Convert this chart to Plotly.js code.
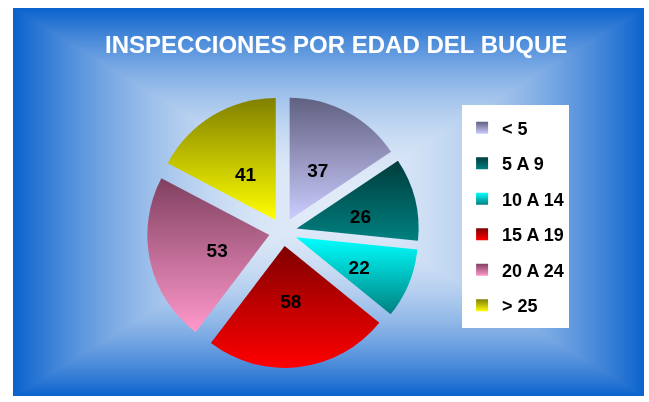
<!DOCTYPE html>
<html><head><meta charset="utf-8">
<script src="https://cdn.plot.ly/plotly-3.0.1.min.js"></script>
<style>
html,body{margin:0;padding:0;background:#fff;overflow:hidden;}
#wrap{position:relative;width:649px;height:402px;}
#bg{position:absolute;left:13px;top:8px;}
#chart{position:absolute;left:0;top:0;width:649px;height:402px;}
</style>
</head><body>
<div id="wrap"><canvas id="bg" width="631" height="388"></canvas><div id="chart"></div></div>
<script>
// ---- data ----
const chartTitle = 'INSPECCIONES POR EDAD DEL BUQUE';
const categories = ['< 5', '5 A 9', '10 A 14', '15 A 19', '20 A 24', '> 25'];
const inspections = [37, 26, 22, 58, 53, 41];
const gradTop =    ['#606080', '#003c3c', '#00ffff', '#800000', '#804060', '#808000'];
const gradBottom = ['#ccccff', '#008080', '#008080', '#ff0000', '#ff99cc', '#ffff00'];
const midColors =  ['#9696c0', '#005e5e', '#00c0c0', '#c00000', '#c06c96', '#c0c000'];

// ---- background (rectangular gradient) ----
(function(){
  const c = document.getElementById('bg');
  const ctx = c.getContext('2d');
  const W = c.width, H = c.height;
  const img = ctx.createImageData(W, H);
  const edge = [10, 98, 205], ctr = [225, 235, 248];
  const cx = W/2, cy = H/2;
  for (let y = 0; y < H; y++) {
    for (let x = 0; x < W; x++) {
      const t = Math.max(Math.abs(x - cx)/cx, Math.abs(y - cy)/cy);
      const f = Math.pow(t, 2);
      const i = (y*W + x)*4;
      img.data[i]   = ctr[0] + (edge[0]-ctr[0])*f;
      img.data[i+1] = ctr[1] + (edge[1]-ctr[1])*f;
      img.data[i+2] = ctr[2] + (edge[2]-ctr[2])*f;
      img.data[i+3] = 255;
    }
  }
  ctx.putImageData(img, 0, 0);
})();

const FONT = 'Liberation Sans, Arial, sans-serif';
const W = 649, H = 402;
// pie centre (px) and radii
const CX = 283, CY = 232, R = 122, PULLPX = 14, RL = 88, LABEL_DY = 4;
function dom(r, dy) {
  const cy = CY + (dy || 0);
  return {x: [(CX - r)/W, (CX + r)/W], y: [(H - cy - r)/H, (H - cy + r)/H]};
}
const legendLabels = categories.map(s => '<span style="font-size:18px">' + s + '</span>');

const pieTrace = {
  type: 'pie',
  labels: legendLabels,
  values: inspections,
  sort: false,
  direction: 'clockwise',
  rotation: 0,
  pull: PULLPX / R,
  textinfo: 'none',
  marker: {colors: midColors, line: {width: 0}},
  hoverinfo: 'none',
  domain: dom(R + PULLPX)
};
// transparent copy used only to place the value labels closer to the centre
const labelTrace = {
  type: 'pie',
  labels: legendLabels,
  values: inspections,
  sort: false,
  direction: 'clockwise',
  rotation: 0,
  pull: PULLPX / RL,
  showlegend: false,
  textinfo: 'value',
  textposition: 'inside',
  insidetextorientation: 'horizontal',
  textfont: {family: FONT, size: 19, color: '#000', weight: 'bold'},
  marker: {colors: categories.map(() => 'rgba(0,0,0,0)'), line: {width: 0}},
  hoverinfo: 'none',
  domain: dom(RL + PULLPX, LABEL_DY)
};

const layout = {
  width: W, height: H,
  margin: {l: 0, r: 0, t: 0, b: 0},
  paper_bgcolor: 'rgba(0,0,0,0)',
  plot_bgcolor: 'rgba(0,0,0,0)',
  title: {text: chartTitle, x: 0.518, xanchor: 'center', y: 0.888, yanchor: 'middle',
          font: {family: FONT, size: 24, color: '#ffffff', weight: 'bold'}},
  showlegend: true,
  legend: {x: 0.712, xanchor: 'left', y: 0.7388, yanchor: 'top', bgcolor: '#ffffff',
           borderwidth: 0, font: {family: FONT, size: 25, color: '#000', weight: 'bold'}}
};

Plotly.newPlot('chart', [pieTrace, labelTrace], layout, {displayModeBar: false, staticPlot: true}).then(function(gd){
  const svg = gd.querySelector('svg.main-svg');
  let defs = svg.querySelector('defs');
  const NS = 'http://www.w3.org/2000/svg';
  categories.forEach(function(_, i){
    const g = document.createElementNS(NS, 'linearGradient');
    g.setAttribute('id', 'pg' + i);
    g.setAttribute('x1', '0'); g.setAttribute('y1', '0');
    g.setAttribute('x2', '0'); g.setAttribute('y2', '1');
    const s1 = document.createElementNS(NS, 'stop');
    s1.setAttribute('offset', '0'); s1.setAttribute('stop-color', gradTop[i]);
    const s2 = document.createElementNS(NS, 'stop');
    s2.setAttribute('offset', '1'); s2.setAttribute('stop-color', gradBottom[i]);
    g.appendChild(s1); g.appendChild(s2);
    defs.appendChild(g);
  });
  const firstTrace = gd.querySelector('.pielayer g.trace');
  firstTrace.querySelectorAll('g.slice path.surface').forEach(function(p, i){
    p.style.fill = 'url(#pg' + i + ')';
  });
  gd.querySelectorAll('path.legendpie').forEach(function(p, i){
    p.style.fill = 'url(#pg' + i + ')';
  });
  gd.querySelectorAll('text.legendtext').forEach(function(t){
    const y = parseFloat(t.getAttribute('y')) || 0;
    t.setAttribute('y', y - 3);
  });
});
</script>
</body></html>
